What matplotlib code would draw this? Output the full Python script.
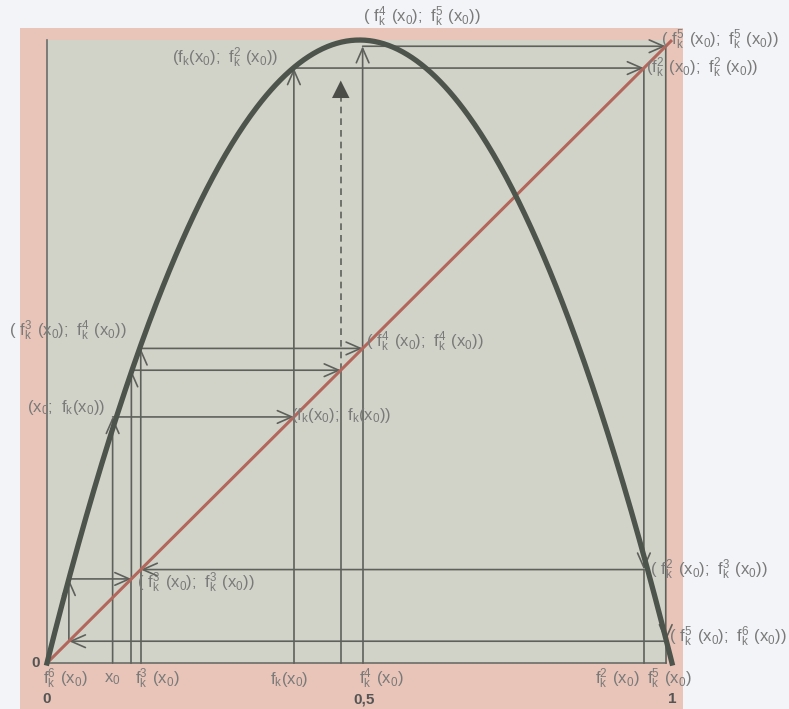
import numpy as np
import matplotlib
matplotlib.use("Agg")
import matplotlib.pyplot as plt
from matplotlib.patches import Rectangle

plt.rcParams['font.family'] = ['Liberation Sans', 'DejaVu Sans']
plt.rcParams['mathtext.default'] = 'regular'

# logistic map parameter and the iterates x0, f(x0), ..., f^8(x0) as drawn
k = 4.0
orbit = [0.105, 0.395, 0.955, 0.15, 0.505, 0.99, 0.035, 0.135, 0.47]
dash_top = 0.935   # where the dashed "and so on" arrow stops

# point labels: text, x, y, horizontal alignment
point_labels = [
    (r'$(f_k(x_0);\ f_k^2\ (x_0))$', 0.370, 0.972, 'right'),
    (r'$(\ f_k^4\ (x_0);\ f_k^5\ (x_0))$', 0.505, 1.037, 'left'),
    (r'$(\ f_k^5\ (x_0);\ f_k^5\ (x_0))$', 0.982, 1.0, 'left'),
    (r'$(f_k^2\ (x_0);\ f_k^2\ (x_0))$', 0.958, 0.955, 'left'),
    (r'$(\ f_k^3\ (x_0);\ f_k^4\ (x_0))$', 0.128, 0.533, 'right'),
    (r'$(\ f_k^4\ (x_0);\ f_k^4\ (x_0))$', 0.51, 0.515, 'left'),
    (r'$(x_0;\ f_k(x_0))$', 0.093, 0.410, 'right'),
    (r'$(f_k(x_0);\ f_k(x_0))$', 0.39, 0.397, 'left'),
    (r'$(\ f_k^3\ (x_0);\ f_k^3\ (x_0))$', 0.144, 0.128, 'left'),
    (r'$(\ f_k^2\ (x_0);\ f_k^3\ (x_0))$', 0.965, 0.149, 'left'),
    (r'$(\ f_k^5\ (x_0);\ f_k^6\ (x_0))$', 0.995, 0.042, 'left'),
]

# labels under the x axis: text, x, alignment
axis_labels = [
    (r'$f_k^6\ (x_0)$', -0.006, 'left'),
    (r'$x_0$', 0.105, 'center'),
    (r'$f_k^3\ (x_0)$', 0.141, 'left'),
    (r'$f_k(x_0)$', 0.387, 'center'),
    (r'$f_k^4\ (x_0)$', 0.500, 'left'),
    (r'$f_k^2\ (x_0)$', 0.948, 'right'),
    (r'$f_k^5\ (x_0)$', 0.960, 'left'),
]
bold_ticks = [('0', 0.0), ('0,5', 0.507), ('1', 1.0)]

line_c = '#5e615b'
text_c = '#7a7a7a'
fs = 12

fig = plt.figure(figsize=(7.89, 7.09), dpi=100, facecolor='#f3f4f7')
ax = fig.add_axes([20 / 789, 0, 663 / 789, 681 / 709])
ax.set_facecolor('#e8c5b8')
ax.set_xlim(-0.0432, 1.0176)
ax.set_ylim(-0.0738, 1.0193)
ax.set_xticks([])
ax.set_yticks([])
for s in ax.spines.values():
    s.set_visible(False)

ax.add_patch(Rectangle((0, 0), 0.99, 1.0, facecolor='#d2d3c8', edgecolor='none', zorder=0))
ax.plot([0, 0], [0, 1], color='#6b6e68', lw=1.2, zorder=1)
ax.plot([0, 0.99], [0, 0], color='#6b6e68', lw=1.2, zorder=1)


def arrow(x1, y1, x2, y2):
    ax.annotate('', xy=(x2, y2), xytext=(x1, y1),
                arrowprops=dict(arrowstyle='->,head_length=0.8,head_width=0.35',
                                mutation_scale=13, color=line_c, lw=1.2,
                                shrinkA=0, shrinkB=0), zorder=3)


def line(x1, y1, x2, y2, **kw):
    ax.plot([x1, x2], [y1, y2], color=line_c, lw=1.2, zorder=2, **kw)


# cobweb: vertical step to the curve, horizontal step to the diagonal
for n in range(len(orbit) - 1):
    xn, xn1 = orbit[n], orbit[n + 1]
    if n == 0:
        arrow(xn, 0, xn, xn1)
    elif n == 6:
        arrow(xn, xn, xn, xn1)
    elif xn1 > xn:
        line(xn, 0, xn, xn)
        arrow(xn, xn, xn, xn1)
    else:
        line(xn, 0, xn, xn1)
        arrow(xn, xn, xn, xn1)
    arrow(xn, xn1, xn1, xn1)

# last iterate: projection and dashed continuation
x8 = orbit[-1]
line(x8, 0, x8, x8)
line(x8, x8, x8, dash_top - 0.02, linestyle=(0, (4, 3)))
ax.annotate('', xy=(x8, dash_top), xytext=(x8, dash_top - 0.03),
            arrowprops=dict(arrowstyle='-|>,head_length=0.9,head_width=0.45',
                            mutation_scale=14, color='#4a4d48', lw=0,
                            shrinkA=0, shrinkB=0), zorder=3)

xs = np.linspace(0, 1, 400)
ax.plot([0, 1], [0, 1], color='#b3665b', lw=2.2, zorder=4, solid_capstyle='butt')
ax.plot(xs, k * xs * (1 - xs), color='#4c544b', lw=3.8, zorder=5)

for txt, x, y, ha in point_labels:
    ax.text(x, y, txt, ha=ha, va='center', fontsize=fs, color=text_c, clip_on=False, zorder=6)

for txt, x, ha in axis_labels:
    ax.text(x, -0.026, txt, ha=ha, va='center', fontsize=fs, color=text_c, zorder=6)

for txt, x in bold_ticks:
    ax.text(x, -0.058, txt, ha='center', va='center', fontsize=11,
            fontweight='bold', color='#555555', zorder=6)
ax.text(-0.019, 0.0, '0', ha='center', va='center', fontsize=11,
        fontweight='bold', color='#555555', zorder=6)

fig.savefig('out.png', dpi=100, facecolor=fig.get_facecolor())
